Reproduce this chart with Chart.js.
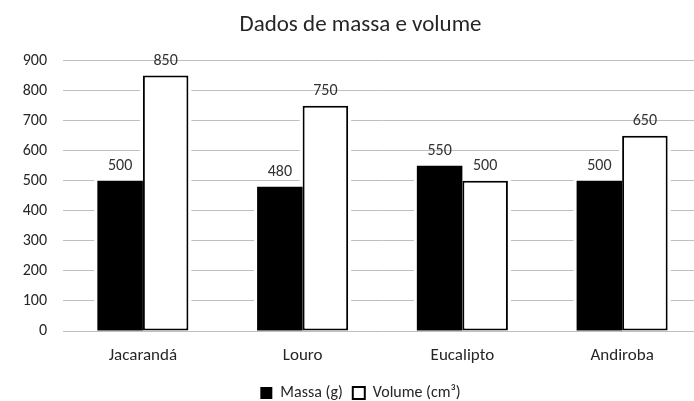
<!DOCTYPE html>
<html>
<head>
<meta charset="utf-8">
<script src="https://cdn.jsdelivr.net/npm/chart.js@4"></script>
<style>
  html, body { margin: 0; padding: 0; background: #fff; overflow: hidden; width: 694px; height: 401px; }
  canvas { display: block; }
</style>
</head>
<body>
<canvas id="chart" width="734" height="401"></canvas>
<script>
// dados
const categorias = ["Jacarandá", "Louro", "Eucalipto", "Andiroba"];
const massa = [500, 480, 550, 500];
const volume = [850, 750, 500, 650];
const yMin = 0, yMax = 900, yPasso = 100;

const fonte = "Carlito, Lato, 'Liberation Sans', sans-serif";

// faixa branca em volta das barras (a grade para antes delas)
const folga = {
    id: "folga",
    beforeDatasetsDraw(chart) {
        const ctx = chart.ctx;
        ctx.save();
        ctx.fillStyle = "#fff";
        chart.data.datasets.forEach((ds, i) => {
            chart.getDatasetMeta(i).data.forEach(bar => {
                const w = bar.width;
                ctx.fillRect(bar.x - w / 2 - 3, bar.y - 3, w + 6, bar.base - bar.y + 2);
            });
        });
        ctx.restore();
    }
};

// rótulos de valor em cima das barras
const rotulos = {
    id: "rotulos",
    afterDatasetsDraw(chart) {
        const ctx = chart.ctx;
        ctx.save();
        ctx.font = "16px " + fonte;
        ctx.fillStyle = "#333";
        ctx.textAlign = "center";
        ctx.textBaseline = "bottom";
        chart.data.datasets.forEach((ds, i) => {
            chart.getDatasetMeta(i).data.forEach((bar, j) => {
                ctx.fillText(ds.data[j], bar.x, bar.y - 7);
            });
        });
        ctx.restore();
    }
};

new Chart(document.getElementById("chart"), {
    type: "bar",
    data: {
        labels: categorias,
        datasets: [
            {
                label: "Massa (g)",
                data: massa,
                backgroundColor: "#000",
                borderColor: "#000",
                borderWidth: 0,
                categoryPercentage: 0.57,
                barPercentage: 1
            },
            {
                label: "Volume (cm³)",
                data: volume,
                backgroundColor: "#fff",
                borderColor: "#000",
                borderWidth: 2,
                borderSkipped: false,
                categoryPercentage: 0.57,
                barPercentage: 1
            }
        ]
    },
    options: {
        responsive: false,
        animation: false,
        devicePixelRatio: 1,
        layout: { padding: { left: 19, right: 32, top: 0, bottom: -10 } },
        plugins: {
            title: {
                display: true,
                text: "Dados de massa e volume",
                color: "#262626",
                font: { family: fonte, size: 23, weight: "normal" },
                padding: { top: 11, bottom: 22 }
            },
            legend: {
                position: "bottom",
                labels: {
                    color: "#262626",
                    font: { family: fonte, size: 16 },
                    boxWidth: 12,
                    boxHeight: 12,
                    padding: 10
                }
            },
            tooltip: { enabled: false }
        },
        scales: {
            x: {
                afterFit: s => { s.height = 44; },
                grid: { display: false },
                border: { display: false },
                ticks: { color: "#262626", font: { family: fonte, size: 17 }, padding: 7 }
            },
            y: {
                min: yMin,
                max: yMax,
                afterFit: s => { s.width = 44; },
                grid: { color: "#bfbfbf", lineWidth: 1, drawTicks: false },
                border: { display: false },
                ticks: { stepSize: yPasso, color: "#262626", font: { family: fonte, size: 16 }, padding: 16 }
            }
        }
    },
    plugins: [folga, rotulos]
});
</script>
</body>
</html>
